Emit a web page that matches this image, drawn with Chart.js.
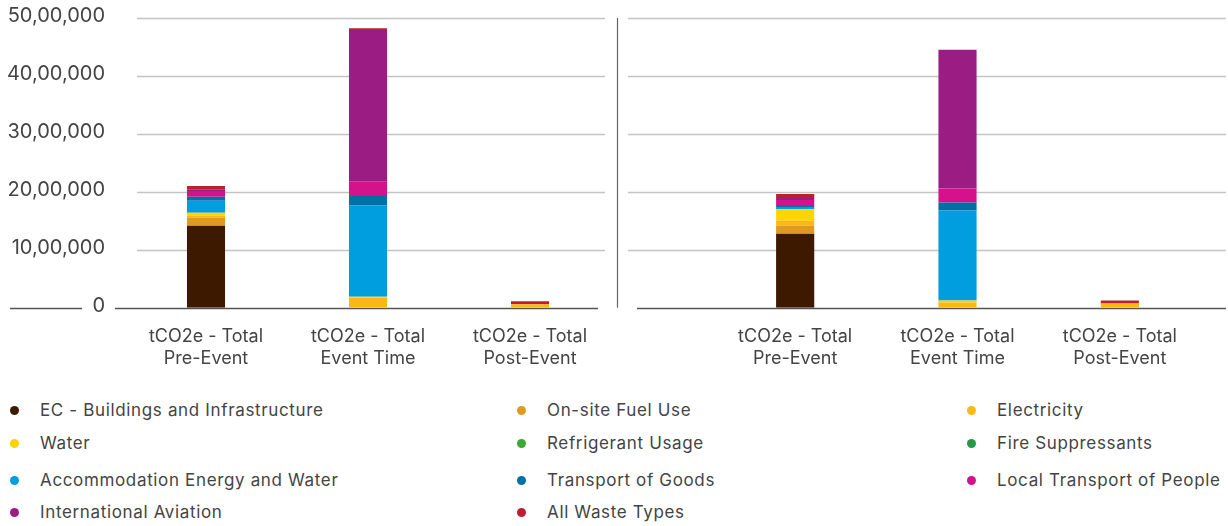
<!DOCTYPE html>
<html>
<head>
<meta charset="utf-8">
<script src="https://cdn.jsdelivr.net/npm/chart.js@4"></script>
<style>
  html, body { margin:0; padding:0; background:#fff; }
  body { width:1228px; height:526px; position:relative; overflow:hidden; font-family:"Inter", sans-serif; }
  #c1 { position:absolute; left:0; top:0; }
  #c2 { position:absolute; left:612px; top:0; }
  .leg { position:absolute; font-size:17px; letter-spacing:0.65px; color:#444; white-space:nowrap; line-height:20px; }
  .leg i { position:absolute; left:-30px; top:6px; width:9px; height:9px; border-radius:50%; }
</style>
</head>
<body>
<canvas id="c1" width="612" height="387"></canvas>
<canvas id="c2" width="616" height="387"></canvas>
<div id="legend"></div>
<script>
// ---- data ----
const categories = [["tCO2e - Total", "Pre-Event"], ["tCO2e - Total", "Event Time"], ["tCO2e - Total", "Post-Event"]];
const seriesNames = [
  "EC - Buildings and Infrastructure", "On-site Fuel Use", "Electricity", "Water",
  "Refrigerant Usage", "Fire Suppressants", "Accommodation Energy and Water",
  "Transport of Goods", "Local Transport of People", "International Aviation", "All Waste Types"
];
const seriesColors = ["#3d1900", "#e09a21", "#fdb913", "#ffd400", "#3aaa35", "#23994a", "#009ddf", "#006fa6", "#d5128c", "#9b1d84", "#be1e2d"];
// left panel
const leftEC            = [1414000, 0, 0];
const leftFuel          = [138000, 0, 0];
const leftElectricity   = [40000, 172000, 60000];
const leftWater         = [46000, 17000, 0];
const leftRefrigerant   = [0, 0, 0];
const leftFire          = [0, 0, 0];
const leftAccommodation = [207000, 1580000, 0];
const leftGoods         = [69000, 161000, 0];
const leftLocal         = [103000, 253000, 0];
const leftAviation      = [29000, 2609000, 0];
const leftWaste         = [57000, 29000, 52000];
// right panel
const rightEC            = [1276000, 0, 0];
const rightFuel          = [138000, 0, 0];
const rightElectricity   = [86000, 92000, 75000];
const rightWater         = [201000, 34000, 0];
const rightRefrigerant   = [0, 0, 0];
const rightFire          = [0, 0, 0];
const rightAccommodation = [40000, 1552000, 0];
const rightGoods         = [17000, 138000, 0];
const rightLocal         = [103000, 241000, 0];
const rightAviation      = [52000, 2397000, 0];
const rightWaste         = [52000, 0, 52000];
// y ticks
const yTickValues = [0, 1000000, 2000000, 3000000, 4000000, 5000000];
const yTickLabels = ["0", "10,00,000", "20,00,000", "30,00,000", "40,00,000", "50,00,000"];

const leftSeries = [leftEC, leftFuel, leftElectricity, leftWater, leftRefrigerant, leftFire, leftAccommodation, leftGoods, leftLocal, leftAviation, leftWaste];
const rightSeries = [rightEC, rightFuel, rightElectricity, rightWater, rightRefrigerant, rightFire, rightAccommodation, rightGoods, rightLocal, rightAviation, rightWaste];

Chart.defaults.font.family = '"Inter", sans-serif';
Chart.defaults.color = '#444';

const gridPlugin = {
  id: 'customGrid',
  beforeDatasetsDraw(chart, args, o) {
    const ctx = chart.ctx, y = chart.scales.y;
    ctx.save();
    y.ticks.forEach(t => {
      const py = Math.round(y.getPixelForValue(t.value)) + 0.5;
      ctx.beginPath();
      if (t.value === 0) {
        ctx.strokeStyle = '#555'; ctx.lineWidth = 1.5;
        o.zeroSegs.forEach(s => { ctx.moveTo(s[0], py); ctx.lineTo(s[1], py); });
      } else {
        ctx.strokeStyle = '#c4c4c4'; ctx.lineWidth = 1.5;
        ctx.moveTo(o.x1, py); ctx.lineTo(o.x2, py);
      }
      ctx.stroke();
    });
    if (o.vline !== undefined) {
      ctx.beginPath();
      ctx.strokeStyle = '#666'; ctx.lineWidth = 1.2;
      ctx.moveTo(o.vline + 0.5, y.getPixelForValue(5000000));
      ctx.lineTo(o.vline + 0.5, y.getPixelForValue(0));
      ctx.stroke();
    }
    ctx.restore();
  }
};

function makeChart(id, series, showY, yWidth, padRight, gridOpts) {
  return new Chart(document.getElementById(id), {
    type: 'bar',
    data: {
      labels: categories,
      datasets: series.map((d, i) => ({
        label: seriesNames[i], data: d, backgroundColor: seriesColors[i],
        borderWidth: 0, categoryPercentage: 1.0, barPercentage: 0.235
      }))
    },
    options: {
      responsive: false, animation: false,
      layout: { padding: { top: 18, right: padRight, left: 0, bottom: 0 } },
      plugins: { legend: { display: false }, tooltip: { enabled: true }, customGrid: gridOpts },
      scales: {
        x: {
          stacked: true,
          grid: { display: false, drawTicks: false },
          border: { display: false },
          ticks: { font: { size: 18 }, color: '#444', padding: 18, maxRotation: 0 }
        },
        y: {
          stacked: true, min: 0, max: 5000000,
          afterBuildTicks: s => { s.ticks = yTickValues.map(v => ({ value: v })); },
          afterFit: s => { s.width = yWidth; s.paddingTop = 0; s.paddingBottom = 0; },
          grid: { display: false, drawTicks: false },
          border: { display: false },
          ticks: {
            display: showY, font: { size: 20 }, color: '#444', padding: 20, labelOffset: -2,
            callback: (v) => { const i = yTickValues.indexOf(v); return i >= 0 ? yTickLabels[i] : ''; }
          }
        }
      }
    },
    plugins: [gridPlugin]
  });
}

makeChart('c1', leftSeries, true, 125, 1, { x1: 137, x2: 605, zeroSegs: [[10, 82], [115, 598]] });
makeChart('c2', rightSeries, false, 102, 27, { x1: 16, x2: 614, zeroSegs: [[25, 614]], vline: 5 });

// ---- legend ----
const legCols = [40, 547, 997];
const legRows = [410, 443, 480, 512];
const legEl = document.getElementById('legend');
seriesNames.forEach((n, i) => {
  const r = Math.floor(i / 3), c = i % 3;
  const d = document.createElement('div');
  d.className = 'leg';
  d.style.left = legCols[c] + 'px';
  d.style.top = (legRows[r] - 10) + 'px';
  d.innerHTML = '<i style="background:' + seriesColors[i] + '"></i>' + n;
  legEl.appendChild(d);
});
</script>
</body>
</html>
